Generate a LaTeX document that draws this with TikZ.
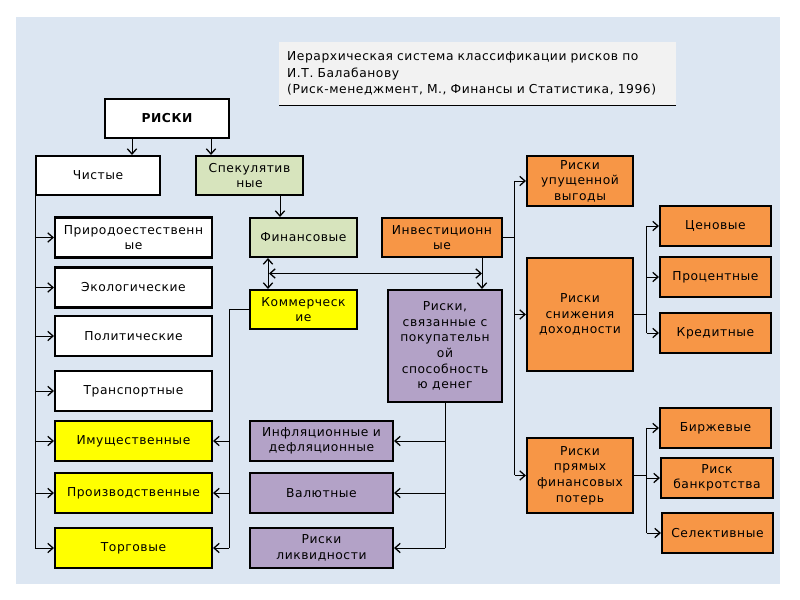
\documentclass[tikz,border=0pt]{standalone}
\usepackage{fontspec}
\setmainfont[LetterSpace=4.5]{DejaVu Sans}
\usetikzlibrary{arrows.meta,calc}
\definecolor{bgblue}{HTML}{DCE6F2}
\definecolor{titlegray}{HTML}{F2F2F2}
\definecolor{greenbox}{HTML}{D7E4BD}
\definecolor{orangebox}{HTML}{F79646}
\definecolor{yellowbox}{HTML}{FFFF00}
\definecolor{purplebox}{HTML}{B3A2C7}
\tikzset{
  box/.style={draw,line width=1.8pt,inner sep=1pt,align=center,
    font=\fontsize{10.5}{13.3}\selectfont},
  sz/.style 2 args={minimum width=#1*0.03cm,minimum height=#2*0.03cm},
  titlebox/.style={fill=titlegray,inner xsep=0.24cm,inner ysep=0pt,
    text width=11.43cm,minimum height=1.89cm,align=left,
    font=\fontsize{10.5}{14}\selectfont},
  link/.style={line width=0.7pt},
  tip/.style={Straight Barb[length=4.5pt,width=8pt,line width=1.1pt]},
  arr/.style={link,-{Straight Barb[length=4.5pt,width=8pt,line width=1.1pt]}},
  arrtwo/.style={link,{Straight Barb[length=4.5pt,width=8pt,line width=1.1pt]}-{Straight Barb[length=4.5pt,width=8pt,line width=1.1pt]}}
}
\begin{document}
\begin{tikzpicture}[x=0.03cm,y=-0.03cm]
            % Page and background
            \useasboundingbox (0,0) rectangle (800,600);%
            \fill [bgblue] (16,17) rectangle (780,584);%

            % Title with underline
            \node [titlebox,anchor=north west] (title) at (279,42) {Иерархическая система классификации рисков по\\И.Т. Балабанову\\(Риск-менеджмент, М., Финансы и Статистика, 1996)};%
            \draw [link] (title.south west) -- (title.south east);%

            % Marking top level boxes
            \node [box,fill=white,sz={124}{39},font=\fontsize{10.5}{13.3}\selectfont\bfseries] (riski) at (167,118.5) {РИСКИ};%
            \node [box,fill=white,sz={124}{39}] (chist) at (98,175.5) {Чистые};%
            \node [box,fill=greenbox,sz={107}{39}] (spek) at (249.5,175.5) {Спекулятив\\ные};%
            \node [box,fill=greenbox,sz={107}{39}] (fin) at (303.5,237.5) {Финансовые};%
            \node [box,fill=orangebox,sz={120}{39}] (invest) at (442,237.5) {Инвестиционн\\ые};%
            \node [box,fill=yellowbox,sz={107}{39}] (komm) at (303.5,309.5) {Коммерческ\\ие};%
            \node [box,fill=purplebox,sz={114}{112}] (pokup) at (445,346) {Риски,\\связанные с\\покупательн\\ой\\способность\\ю денег};%

            % Marking pure risk boxes
            \node [box,fill=white,sz={157}{40}] (prir) at (133.5,237.5) {Природоестественн\\ые};%
            \node [box,fill=white,sz={157}{40}] (ekol) at (133.5,287.5) {Экологические};%
            \node [box,fill=white,sz={157}{40}] (polit) at (133.5,336) {Политические};%
            \node [box,fill=white,sz={157}{40}] (transp) at (133.5,391) {Транспортные};%
            \node [box,fill=yellowbox,sz={157}{40}] (imush) at (133.5,441) {Имущественные};%
            \node [box,fill=yellowbox,sz={157}{40}] (proizv) at (133.5,493) {Производственные};%
            \node [box,fill=yellowbox,sz={157}{40}] (torg) at (133.5,548) {Торговые};%

            % Marking purchasing power boxes
            \node [box,fill=purplebox,sz={143}{40}] (infl) at (321.5,441) {Инфляционные и\\дефляционные};%
            \node [box,fill=purplebox,sz={143}{40}] (valut) at (321.5,493) {Валютные};%
            \node [box,fill=purplebox,sz={143}{40}] (likv) at (321.5,548) {Риски\\ликвидности};%

            % Marking investment boxes
            \node [box,fill=orangebox,sz={106}{50}] (upush) at (580,181) {Риски\\упущенной\\выгоды};%
            \node [box,fill=orangebox,sz={106}{113}] (snizh) at (580,314.5) {Риски\\снижения\\доходности};%
            \node [box,fill=orangebox,sz={106}{75}] (pryam) at (580,475.5) {Риски\\прямых\\финансовых\\потерь};%
            \node [box,fill=orangebox,sz={111}{40}] (cen) at (715.5,226) {Ценовые};%
            \node [box,fill=orangebox,sz={111}{40}] (proc) at (715.5,277) {Процентные};%
            \node [box,fill=orangebox,sz={111}{40}] (kred) at (715.5,333) {Кредитные};%
            \node [box,fill=orangebox,sz={111}{40}] (birzh) at (715.5,428) {Биржевые};%
            \node [box,fill=orangebox,sz={112}{40}] (bankr) at (717,478) {Риск\\банкротства};%
            \node [box,fill=orangebox,sz={111}{40}] (selekt) at (717.5,533) {Селективные};%

            % Drawing arrows from top
            \draw [arr] ($(riski.south)+(-35,0)$) coordinate (r1) -- (r1 |- chist.north);%
            \draw [arr] ($(riski.south)+(44,0)$) coordinate (r2) -- (r2 |- spek.north);%
            \draw [arr] ($(spek.south)+(30.5,0)$) coordinate (s1) -- (s1 |- fin.north);%
            \draw [arr] ($(invest.south)+(40,0)$) coordinate (i1) -- (i1 |- pokup.north);%

            % Drawing links between financial boxes
            \draw [arrtwo] ($(fin.south)+(-35.5,0)$) coordinate (f1) -- (f1 |- komm.north);%
            \coordinate (h1) at ($(fin.south)!0.5!(komm.north)$);%
            \draw [arrtwo] ($(f1 |- h1)+(1,0)$) -- (i1 |- h1);%

            % Drawing branch of pure risks
            \draw [link] (chist.south west) -- (chist.south west |- torg.west);%
            \foreach \b in {prir,ekol,polit,transp,imush,proizv,torg}
              \draw [arr] (chist.south west |- \b.west) -- (\b.west);%

            % Drawing branch of commercial risks
            \coordinate (k1) at ($(imush.east)!0.45!(infl.west)$);%
            \draw [link] (komm.west) -| (k1 |- torg.east);%
            \foreach \b in {imush,proizv,torg}
              \draw [arr] (k1 |- \b.east) -- (\b.east);%

            % Drawing branch of purchasing power risks
            \draw [link] (pokup.south) -- (pokup.south |- likv.east);%
            \foreach \b in {infl,valut,likv}
              \draw [arr] (pokup.south |- \b.east) -- (\b.east);%

            % Drawing branch of investment risks
            \coordinate (v1) at ($(invest.east)!0.5!(invest.east -| upush.west)$);%
            \draw [link] (invest.east) -- (v1);%
            \draw [link] (v1 |- upush.west) -- (v1 |- pryam.west);%
            \foreach \b in {upush,snizh,pryam}
              \draw [arr] (v1 |- \b.west) -- (\b.west);%

            % Drawing branch of income decrease
            \coordinate (c1) at ($(snizh.east)!0.5!(snizh.east -| cen.west)$);%
            \draw [link] (snizh.east) -- (c1);%
            \draw [link] (c1 |- cen.west) -- (c1 |- kred.west);%
            \foreach \b in {cen,proc,kred}
              \draw [arr] (c1 |- \b.west) -- (\b.west);%

            % Drawing branch of direct losses
            \coordinate (p1) at ($(pryam.east)!0.5!(pryam.east -| birzh.west)$);%
            \draw [link] (pryam.east) -- (p1);%
            \draw [link] (p1 |- birzh.west) -- (p1 |- selekt.west);%
            \foreach \b in {birzh,bankr,selekt}
              \draw [arr] (p1 |- \b.west) -- (\b.west);%
\end{tikzpicture}
\end{document}
